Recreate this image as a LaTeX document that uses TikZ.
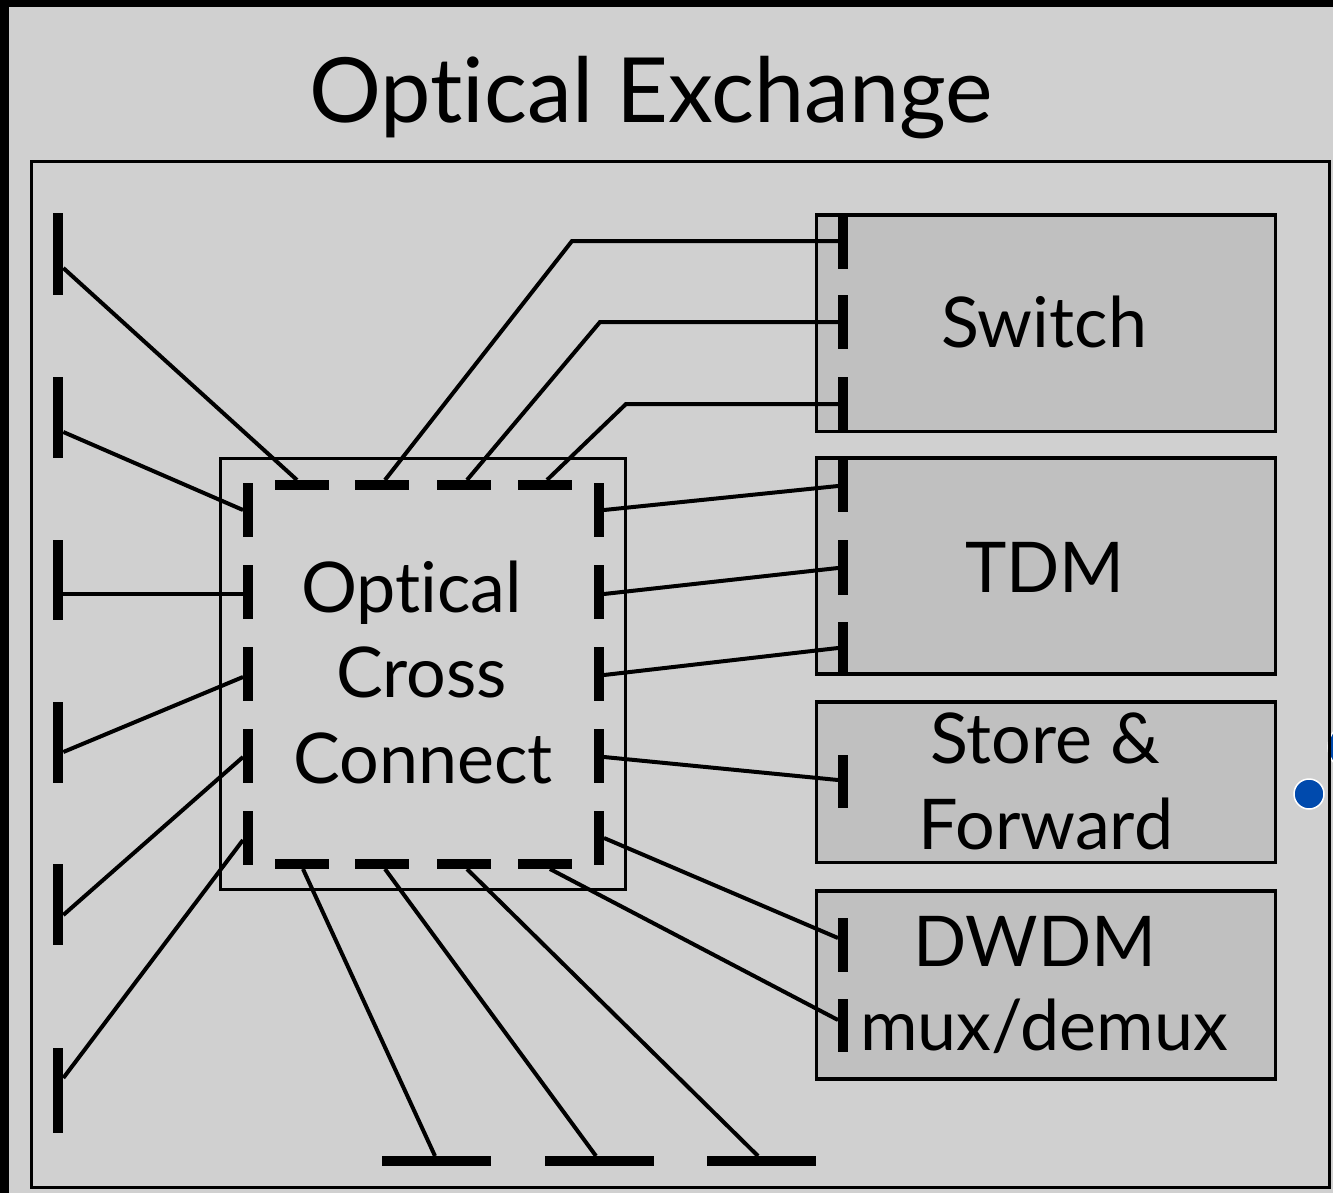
\documentclass[tikz,border=0pt]{standalone}
\usepackage{fontspec}
\setmainfont{Lato}[Ligatures={NoCommon,NoContextual}]
\definecolor{bggray}{RGB}{208,208,208}
\definecolor{boxgray}{RGB}{192,192,192}
\definecolor{bluedot}{RGB}{0,74,173}
\begin{document}
\begin{tikzpicture}[x=1pt,y=-1pt,
  conn/.style={line width=4pt},
  vport/.style={rectangle,fill=black,inner sep=0,outer sep=0,minimum width=10pt},
  hport/.style={rectangle,fill=black,inner sep=0,outer sep=0,minimum height=10pt},
  box/.style={rectangle,draw=black,line width=3.5pt,fill=boxgray,inner sep=0,outer sep=0},
  frame/.style={rectangle,draw=black,line width=3.5pt,inner sep=0,outer sep=0},
  lbl/.style={inner sep=0,anchor=base,font=\fontsize{70}{84}\selectfont},
  ttl/.style={inner sep=0,anchor=base,font=\fontsize{90}{100}\selectfont},
  handle/.style={fill=bluedot,draw=white,line width=1.5pt}
]
\fill[black] (0,0) rectangle (1333,1193);
\useasboundingbox (0,0) rectangle (1333,1193);
\fill[bggray] (9,7) rectangle (1333,1193);

% selection handles
\path[handle] (1352,747) circle (24);

% frames and boxes
\node[frame,minimum width=1298pt,minimum height=1026pt] (exch) at (680.5,674.5) {};
\node[box,minimum width=459pt,minimum height=216.5pt] (switch) at (1046,323.25) {};
\node[box,minimum width=459pt,minimum height=216pt] (tdm) at (1046,566) {};
\node[box,minimum width=459pt,minimum height=160.5pt] (store) at (1046,782.25) {};
\node[box,minimum width=459pt,minimum height=188pt] (dwdm) at (1046,985) {};
\node[frame,line width=3pt,minimum width=405pt,minimum height=431pt] (oxc) at (423.2,673.8) {};

% left column ports
\node[vport,minimum height=82pt] (L1) at (58.3,254) {};
\node[vport,minimum height=81pt] (L2) at (58.3,417.5) {};
\node[vport,minimum height=80pt] (L3) at (58.3,580) {};
\node[vport,minimum height=81pt] (L4) at (58.3,742.5) {};
\node[vport,minimum height=81pt] (L5) at (58.3,904.5) {};
\node[vport,minimum height=85pt] (L6) at (58.3,1090.5) {};

% OXC dashed ports
\foreach \n/\x in {1/302,2/382,3/464,4/545}{
  \node[hport,minimum width=54pt] (T\n) at (\x,485) {};
  \node[hport,minimum width=54pt] (B\n) at (\x,864) {};
}
\foreach \n/\y in {1/510,2/592,3/674,4/756,5/838}{
  \node[vport,minimum height=54pt] (OL\n) at (248,\y) {};
  \node[vport,minimum height=54pt] (OR\n) at (599,\y) {};
}

% right box ports
\node[vport,minimum height=52pt] (S1) at (843,242.5) {};
\node[vport,minimum height=54pt] (S2) at (843,322) {};
\node[vport,minimum height=53pt] (S3) at (843,403.5) {};
\node[vport,minimum height=54pt] (D1) at (843,485) {};
\node[vport,minimum height=55pt] (D2) at (843,567.5) {};
\node[vport,minimum height=52pt] (D3) at (843,648) {};
\node[vport,minimum height=53pt] (F1) at (843,781.5) {};
\node[vport,minimum height=54pt] (W1) at (843,945) {};
\node[vport,minimum height=53pt] (W2) at (843,1025.5) {};

% bottom ports
\node[hport,minimum width=109pt] (P1) at (436.5,1161) {};
\node[hport,minimum width=109pt] (P2) at (599.5,1161) {};
\node[hport,minimum width=109pt] (P3) at (761.5,1161) {};

% connectors
\draw[conn] (L1.east |- 0,268) -- (T1.north -| 297,0);
\draw[conn] (L2.east |- 0,432) -- (OL1.west |- 0,510);
\draw[conn] (L3.east |- 0,594) -- (OL2.west |- 0,594);
\draw[conn] (L4.east |- 0,752) -- (OL3.west |- 0,677);
\draw[conn] (L5.east |- 0,915) -- (OL4.west |- 0,757);
\draw[conn] (L6.east |- 0,1078) -- (OL5.west |- 0,840);
\draw[conn] (T2.north -| 385,0) -- (572,241) -- (S1.west |- 0,241);
\draw[conn] (T3.north -| 467,0) -- (600,322) -- (S2.west |- 0,322);
\draw[conn] (T4.north -| 547,0) -- (626,404) -- (S3.west |- 0,404);
\draw[conn] (OR1.east |- 0,510) -- (D1.west |- 0,486);
\draw[conn] (OR2.east |- 0,594) -- (D2.west |- 0,568);
\draw[conn] (OR3.east |- 0,675) -- (D3.west |- 0,648);
\draw[conn] (OR4.east |- 0,757) -- (F1.west |- 0,780);
\draw[conn] (OR5.east |- 0,838) -- (W1.west |- 0,938);
\draw[conn] (B4.south -| 550,0) -- (W2.west |- 0,1020);
\draw[conn] (B1.south -| 303,0) -- (P1.north -| 435,0);
\draw[conn] (B2.south -| 385,0) -- (P2.north -| 596,0);
\draw[conn] (B3.south -| 467,0) -- (P3.north -| 758,0);

% labels
\node[ttl] (title) at (651,123) {Optical Exchange};
\node[lbl] (tswitch) at (1044,347) {Switch};
\node[lbl] (ttdm) at (1045,592) {TDM};
\node[lbl] (tstore) at (1045,763) {Store \&};
\node[lbl] (tfwd) at (1046,849) {Forward};
\node[lbl] (tdwdm) at (1035,966) {DWDM};
\node[lbl] (tmux) at (1044,1050) {mux/demux};
\node[lbl] (toxc1) at (411.5,612) {Optical};
\node[lbl] (toxc2) at (421.5,697) {Cross};
\node[lbl] (toxc3) at (423,783) {Connect};

\path[handle] (1309,794) circle (15);
\end{tikzpicture}
\end{document}
